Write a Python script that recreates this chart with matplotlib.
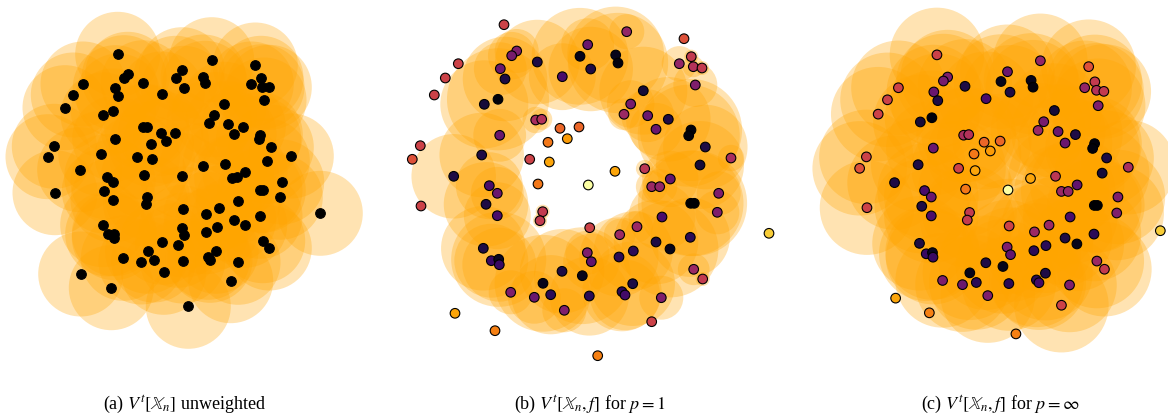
import numpy as np
import matplotlib.pyplot as plt
from matplotlib.patches import Circle

plt.rcParams['font.family'] = ['Liberation Serif', 'DejaVu Serif']
plt.rcParams['mathtext.fontset'] = 'stix'

# panel (a): unweighted sample (positions read in picture pixels, y down)
xa = [117.7, 127.7, 124, 182, 175.7, 183.7, 143.3, 83, 115.3, 118.3, 162, 73.3, 65, 113.3, 103,
      142.7, 146.7, 160.7, 175.3, 166.3, 114.7, 151.3, 54.3, 48, 100.7, 137.3, 152.3, 79.7, 106.7,
      113, 144, 182.3,
      211.7, 255.3, 203.3, 205, 261, 251.3, 262, 269.3, 264, 224, 214.3, 209.3, 227.7, 243.3, 234,
      260.3, 258.7, 271.3, 291.3, 267.3, 202.7, 225.3, 231.7, 236.7, 245, 281.7,
      55, 104.3, 113, 147.3, 145.7, 183.3, 102.7, 107.7, 114.3, 114.3, 181.7, 184.3, 162.3, 177.7,
      147.7, 123.3, 141, 153.7, 182.7, 163.7, 80.7, 111.3, 188.3,
      260, 263.3, 280.3, 238.3, 219.3, 206.3, 233.7, 244.7, 260, 217, 205.7, 320.3, 262.7, 269.3,
      216, 208, 210, 238, 230.7]
ya = [54.3, 74.3, 77.7, 69.7, 78.3, 88.3, 82.7, 84, 87.7, 96, 94, 95, 107.7, 111, 115,
      126.7, 126.7, 133.3, 132.7, 141, 138.7, 144.3, 146.3, 156.7, 153.7, 156.7, 159, 169.7, 176.7,
      182, 175.3, 175.7,
      59.7, 65, 77, 83.3, 78.3, 84, 86.7, 87.3, 100, 104.3, 114.7, 122.7, 123.7, 126.7, 134,
      134.7, 138.7, 147.3, 156, 161, 165.7, 163.7, 177.7, 177.3, 172, 182,
      192.7, 191, 200, 197, 203.7, 209, 224.7, 234, 233.7, 237.7, 227.7, 235, 242.3, 245.3,
      251.3, 258.3, 262, 260, 261, 272.3, 274, 287.7, 306.3,
      190.3, 190.3, 197.3, 200.7, 208, 214.3, 219.7, 225.3, 216.3, 227, 231.7, 213.3, 240.7, 248,
      251.3, 257.3, 260.3, 262.3, 280.7]

# panels (b), (c): noisy annulus with function values f
xb = [504, 516.7, 511.7, 537.3, 587.7, 580, 590.7, 458.3, 445.3, 500.3, 505, 434.3, 562.3, 498,
      484.3, 535.7, 541.7, 560, 579, 548, 567.3, 499.7, 420.3, 412.3, 481.7, 529.7, 549.3, 453.7,
      588.3, 489.3, 538, 497.3, 421, 486, 497.3, 542.7, 540, 589.7, 483.3, 491.3, 498.7, 499.3,
      587.3, 591.3, 562, 582.3, 543, 510.7, 534.3, 550.7, 589.3, 564.3, 455, 495,
      626.7, 615.7, 618, 684, 691.3, 679.3, 693.3, 702, 695.3, 643.3, 630.7, 624, 647.7, 668.3,
      656, 691, 688.7, 705.3, 731, 700, 644.7, 615, 670.3, 651.7, 659.7, 718.7, 690.7, 694.3,
      662, 717.3, 637, 619.7, 656, 690.3, 670, 633.3, 619, 769, 693.7, 702.7, 632.7, 622, 625,
      661.3, 651.7, 597.7]
yb = [24.7, 51, 55.7, 62, 44.7, 56.3, 69, 63.7, 78, 68.7, 79, 95, 76.7, 99.3,
      104.3, 120, 119.3, 128.3, 127, 142.3, 138.7, 135.3, 145.7, 159.3, 155, 159.3, 162, 176.3,
      185, 185.7, 184, 193.3, 206, 204.3, 215.7, 211.7, 220.7, 227.7, 248.3, 260.7, 259.3, 264.7,
      252.7, 261.7, 271.3, 275.7, 283.3, 292.3, 297.3, 294.7, 296, 310.3, 313.3, 330.7,
      31.7, 55, 63, 38.7, 56.7, 63.7, 66.7, 68, 85, 90.7, 104, 114.3, 115.7, 119.3,
      129.3, 130, 135.7, 147, 158, 165, 168.7, 171.3, 179, 186.7, 186.7, 193.3, 203.3, 203.3,
      217, 212.3, 226.7, 234.7, 242, 237.3, 249, 251, 257, 233.3, 269.3, 279, 283.7, 291.7, 295,
      297.7, 321.7, 355.7]
fb = [0.55, 0.35, 0.33, 0.12, 0.3, 0.05, 0.12, 0.55, 0.55, 0.3, 0.12, 0.55, 0.22, 0.02,
      0.1, 0.45, 0.48, 0.66, 0.66, 0.7, 0.78, 0.3, 0.55, 0.6, 0.12, 0.55, 0.8, 0.12,
      1.0, 0.22, 0.7, 0.3, 0.55, 0.12, 0.22, 0.52, 0.52, 0.55, 0.12, 0.18, 0.06, 0.18,
      0.35, 0.28, 0.12, 0.05, 0.05, 0.35, 0.3, 0.15, 0.15, 0.35, 0.8, 0.72,
      0.4, 0.05, 0.03, 0.6, 0.52, 0.4, 0.48, 0.52, 0.35, 0.1, 0.33, 0.42, 0.3, 0.12,
      0.3, 0.02, 0.02, 0.12, 0.45, 0.1, 0.5, 0.8, 0.28, 0.42, 0.4, 0.35, 0.0, 0.0,
      0.22, 0.35, 0.42, 0.42, 0.12, 0.15, 0.05, 0.15, 0.15, 0.88, 0.42, 0.52, 0.12, 0.15, 0.2,
      0.35, 0.55, 0.72]

captions = [r'(a) $V^t[\mathbb{X}_n]$ unweighted',
            r'(b) $V^t[\mathbb{X}_n, f]$ for $p = 1$',
            r'(c) $V^t[\mathbb{X}_n, f]$ for $p = \infty$']

xa, ya = np.array(xa), np.array(ya)
xb, yb, fb = np.array(xb), np.array(yb), np.array(fb)

W, H = 1168, 418
fig = plt.figure(figsize=(W / 100, H / 100), dpi=100)


def add_panel(px0, px1, py0, py1, cx, cy, scale):
    # axes over figure pixels [px0, px1] x [py0, py1]; data point (cx, cy)
    # lands on the middle of the box, `scale` pixels per data unit
    ax = fig.add_axes([px0 / W, 1 - py1 / H, (px1 - px0) / W, (py1 - py0) / H])
    hw = (px1 - px0) / 2 / scale
    hh = (py1 - py0) / 2 / scale
    ax.set_xlim(cx - hw, cx + hw)
    ax.set_ylim(cy + hh, cy - hh)
    ax.set_aspect('equal')
    ax.axis('off')
    return ax


def draw(ax, x, y, r, c):
    for xi, yi, ri in zip(x, y, r):
        if ri > 0:
            ax.add_patch(Circle((xi, yi), ri, facecolor='orange', edgecolor='none', alpha=0.3))
    ax.scatter(x, y, s=48, c=c, cmap='inferno', vmin=0, vmax=1,
               edgecolors='black', linewidths=0.8, zorder=3)


# (a) same radius for every point
ax1 = add_panel(0, 372, 0, 372, 186, 186, 1.0)
draw(ax1, xa, ya, np.full(len(xa), 42.5), 'black')

# (b) p = 1: radius t - f
ax2 = add_panel(396, 784, 0, 372, 590, 186, 1.0)
rb = np.clip(88 * (0.6 - fb), 0, None)
draw(ax2, xb, yb, rb, fb)

# (c) p = inf: radius t where f <= t
ax3 = add_panel(800, 1168, 0, 372, 588.3 + (984 - 1008) / 0.843, 185 + (186 - 190) / 0.843, 0.843)
rc = np.where(fb <= 0.7, 56, 0)
draw(ax3, xb, yb, rc, fb)

for cx, cap in zip([185, 590, 1000], captions):
    fig.text(cx / W, 1 - 404 / H, cap, ha='center', va='center', fontsize=13)

fig.savefig('out.png', dpi=100)
